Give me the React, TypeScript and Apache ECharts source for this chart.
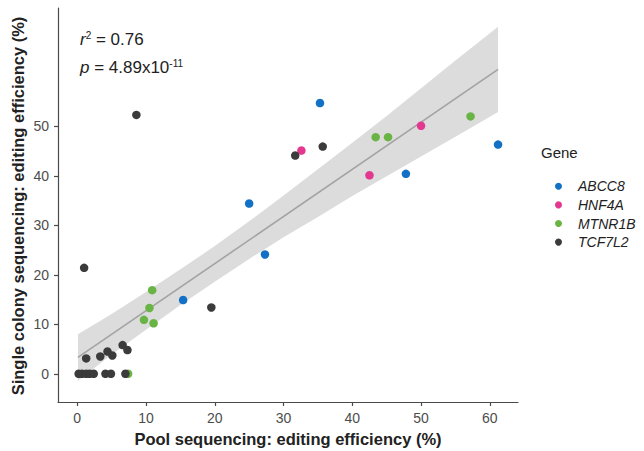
import React, { useEffect, useRef } from "react";
import * as echarts from "echarts";

// ---- data ----
const genes = ["ABCC8", "HNF4A", "MTNR1B", "TCF7L2"];
const geneColors = ["#1271c4", "#e4378f", "#6ab445", "#3b3b3b"];

const abcc8X = [35.3, 25.0, 27.3, 15.4, 47.8, 61.2];
const abcc8Y = [54.7, 34.4, 24.1, 14.9, 40.4, 46.3];

const hnf4aX = [32.6, 50.0, 42.5];
const hnf4aY = [45.1, 50.1, 40.1];

const mtnr1bX = [7.4, 10.9, 10.5, 9.7, 11.1, 43.4, 45.2, 57.2];
const mtnr1bY = [0, 16.9, 13.3, 10.9, 10.2, 47.8, 47.8, 52.0];

const tcf7l2X = [8.6, 31.7, 35.7, 19.5, 1.0, 1.3, 3.35, 4.4, 5.1, 6.6, 7.3, 0.2, 0.7, 1.3, 1.8, 2.4, 4.1, 4.9, 7.0];
const tcf7l2Y = [52.3, 44.1, 45.9, 13.4, 21.4, 3.1, 3.5, 4.5, 3.7, 5.8, 4.8, 0, 0, 0, 0, 0, 0, 0, 0];

// fitted line end points and confidence band
const fitX = [0.1, 61.2];
const fitY = [3.3, 61.5];
const bandX = [0.1, 5, 10, 15, 20, 25, 30, 35, 40, 45, 50, 55, 61.2];
const bandLo = [-1.4, 3.9, 8.9, 13.9, 18.6, 23.2, 27.6, 31.7, 35.9, 39.9, 43.9, 47.9, 52.9];
const bandHi = [8.0, 12.1, 16.5, 21.1, 25.8, 30.8, 36.0, 41.3, 46.7, 52.1, 57.7, 63.3, 70.1];

const xTicks = [0, 10, 20, 30, 40, 50, 60];
const yTicks = [0, 10, 20, 30, 40, 50];

const xTitle = "Pool sequencing: editing efficiency (%)";
const yTitle = "Single colony sequencing: editing efficiency (%)";

const seriesX = [abcc8X, hnf4aX, mtnr1bX, tcf7l2X];
const seriesY = [abcc8Y, hnf4aY, mtnr1bY, tcf7l2Y];

const FONT = "'Liberation Sans', Arial, Helvetica, sans-serif";

export default function App() {
  const ref = useRef<HTMLDivElement>(null);

  useEffect(() => {
    document.body.style.margin = "0";
    if (!ref.current) return;
    const chart = echarts.init(ref.current, undefined, { renderer: "svg" });

    const axisCommon = {
      axisLine: { show: true, onZero: false, lineStyle: { color: "#4a4a4a", width: 1.2 } },
      axisTick: { show: true, length: 4, lineStyle: { color: "#4a4a4a", width: 1.2 } },
      splitLine: { show: false },
    };

    const scatterSeries = genes.map((g, gi) => ({
      name: g,
      type: "scatter",
      symbol: "circle",
      symbolSize: 8.5,
      itemStyle: { color: geneColors[gi], opacity: 1 },
      data: seriesX[gi].map((x, i) => [x, seriesY[gi][i]]),
      z: 5,
    }));

    const titleStyle = {
      fontFamily: FONT,
      fontWeight: "bold",
      fontSize: 16.5,
      fill: "#222",
      textAlign: "center",
      textVerticalAlign: "middle",
    };

    const richSup = {
      i: { fontFamily: FONT, fontSize: 17, fontStyle: "italic", fill: "#222", lineHeight: 20 },
      s: { fontFamily: FONT, fontSize: 10, fill: "#222", lineHeight: 10, verticalAlign: "top", padding: [1, 0, 0, 0] },
      n: { fontFamily: FONT, fontSize: 17, fill: "#222", lineHeight: 20 },
    };

    const option: any = {
      animation: false,
      textStyle: { fontFamily: FONT },
      grid: { left: 58, right: 126, top: 8, bottom: 49, containLabel: false, outerBoundsMode: "none" },
      xAxis: {
        type: "value",
        min: -2.8,
        max: 64.1,
        ...axisCommon,
        axisTick: { ...axisCommon.axisTick, customValues: xTicks },
        axisLabel: { customValues: xTicks, fontFamily: FONT, fontSize: 14, color: "#4d4d4d", margin: 9 },
      },
      yAxis: {
        type: "value",
        min: -5.7,
        max: 73.9,
        ...axisCommon,
        axisTick: { ...axisCommon.axisTick, customValues: yTicks },
        axisLabel: { customValues: yTicks, fontFamily: FONT, fontSize: 14, color: "#4d4d4d", margin: 9 },
      },
      legend: {
        data: genes,
        orient: "vertical",
        left: 550,
        top: 172,
        icon: "circle",
        itemWidth: 7,
        itemHeight: 7,
        itemGap: 0,
        textStyle: {
          fontFamily: FONT,
          fontSize: 14,
          fontStyle: "italic",
          color: "#222",
          lineHeight: 18.6,
          padding: [0, 0, 0, 11],
        },
      },
      graphic: [
        {
          type: "text",
          x: 288,
          y: 439,
          style: { text: xTitle, ...titleStyle },
        },
        {
          type: "text",
          x: 17.5,
          y: 206,
          rotation: Math.PI / 2,
          style: { text: yTitle, ...titleStyle },
        },
        {
          type: "text",
          left: 541,
          top: 145,
          style: { text: "Gene", fontFamily: FONT, fontSize: 15, fill: "#222" },
        },
        {
          type: "text",
          left: 80,
          top: 29,
          style: { text: "{i|r}{s|2}{n| = 0.76}", rich: richSup },
        },
        {
          type: "text",
          left: 80,
          top: 57,
          style: { text: "{i|p}{n| = 4.89x10}{s|-11}", rich: richSup },
        },
      ],
      series: [
        {
          type: "custom",
          silent: true,
          z: 1,
          data: bandX.map((x, i) => [x, bandLo[i], bandHi[i]]),
          encode: { x: 0, y: [1, 2] },
          renderItem: (params: any, api: any) => {
            if (params.dataIndex !== 0) return null;
            const pts: number[][] = [];
            for (let i = 0; i < bandX.length; i++) pts.push(api.coord([bandX[i], bandHi[i]]));
            for (let i = bandX.length - 1; i >= 0; i--) pts.push(api.coord([bandX[i], bandLo[i]]));
            return {
              type: "polygon",
              shape: { points: pts },
              style: { fill: "#dcdcdc", stroke: "none" },
            };
          },
        },
        {
          type: "line",
          silent: true,
          z: 2,
          symbol: "none",
          data: fitX.map((x, i) => [x, fitY[i]]),
          lineStyle: { color: "#a3a3a3", width: 1.6 },
        },
        ...scatterSeries,
      ],
    };

    chart.setOption(option);
    return () => chart.dispose();
  }, []);

  return <div ref={ref} style={{ width: 644, height: 451 }} />;
}
